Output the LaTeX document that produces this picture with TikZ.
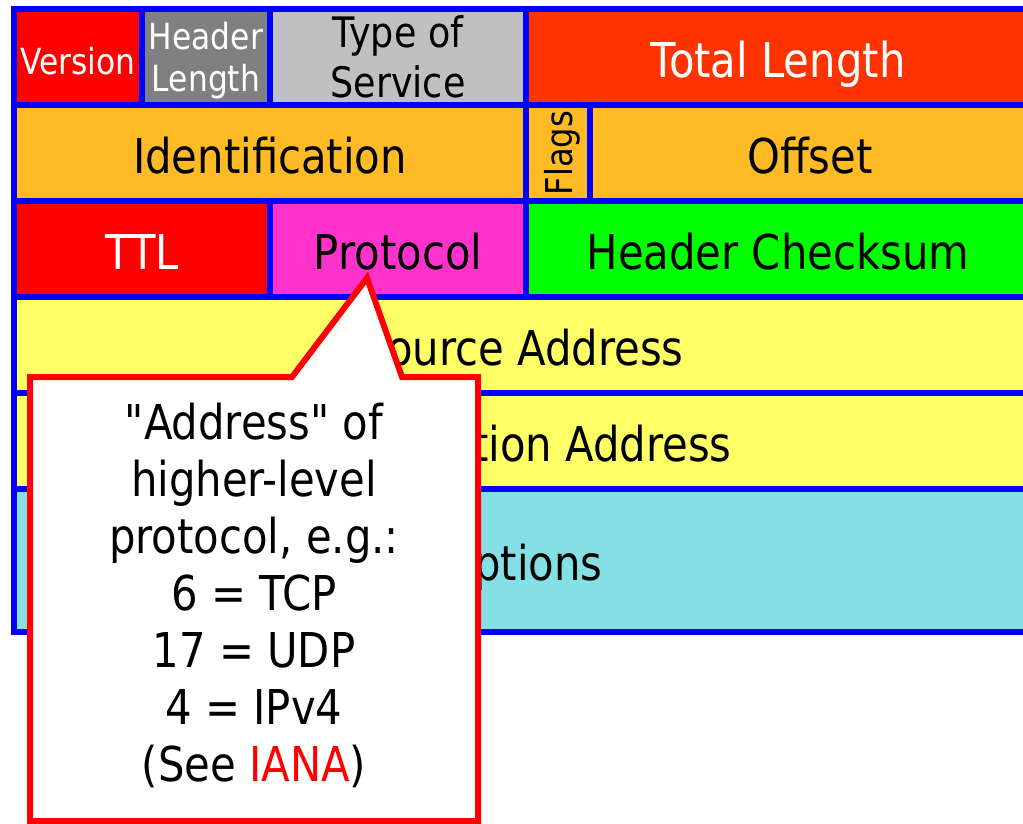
\documentclass[tikz,border=0pt]{standalone}
\usepackage{fontspec}
\setmainfont{DejaVu Sans}[FakeStretch=0.87,Ligatures=TeXOff]
\usetikzlibrary{positioning}
\definecolor{Line}{RGB}{0,0,255}
\definecolor{Ver}{RGB}{255,0,0}
\definecolor{HLen}{RGB}{128,128,128}
\definecolor{TOS}{RGB}{192,192,192}
\definecolor{Total}{RGB}{255,51,0}
\definecolor{Ident}{RGB}{255,187,38}
\definecolor{Proto}{RGB}{255,51,204}
\definecolor{Check}{RGB}{0,255,0}
\definecolor{Addr}{RGB}{255,255,102}
\definecolor{Opt}{RGB}{132,224,228}

\begin{document}
\begin{tikzpicture}[x=1pt,y=-1pt,
 f/.style={draw=Line,line width=6pt,inner sep=0pt,align=center,minimum height=96pt,font=\fontsize{48}{57}\selectfont},
 one/.style={text height=40pt,text depth=0pt},
 sm/.style={font=\fontsize{36}{42}\selectfont},
 callout/.style={draw=red,fill=white,line width=6pt,line join=miter},
 note/.style={align=center,inner sep=0pt,font=\fontsize{48}{57}\selectfont}]
\useasboundingbox (0,0) rectangle (1023,823);
\clip (0,0) rectangle (1023,823);
\fill[white] (0,0) rectangle (1023,823);
% row 1
\node[f,sm,fill=Ver,text=white,minimum width=128pt,text height=34pt,text depth=0pt] (ver) at (78,57) {Version};
\node[f,sm,fill=HLen,text=white,minimum width=128pt,text depth=0pt] (hlen) at (206,57) {Header\\Length};
\node[f,fill=TOS,minimum width=256pt,font=\fontsize{42}{50}\selectfont] (tos) at (398,57) {Type of\\Service};
\node[f,one,fill=Total,text=white,minimum width=504pt] (total) at (778,57) {Total Length};
% row 2
\node[f,one,fill=Ident,minimum width=512pt] (ident) at (270,153) {Identification};
\node[f,fill=Ident,rotate=90,minimum width=96pt,minimum height=64pt,text height=28pt,text depth=0pt,font=\fontsize{37}{42}\selectfont] (flags) at (558,153) {Flags};
\node[f,one,fill=Ident,minimum width=440pt] (offset) at (810,153) {Offset};
% row 3
\node[f,one,fill=Ver,text=white,minimum width=256pt] (ttl) at (142,249) {TTL};
\node[f,one,fill=Proto,minimum width=256pt] (proto) at (398,249) {Protocol};
\node[f,one,fill=Check,minimum width=504pt] (check) at (778,249) {Header Checksum};
% rows 4-6
\node[f,one,fill=Addr,minimum width=1016pt] (src) at (522,345) {Source Address};
\node[f,one,fill=Addr,minimum width=1016pt] (dst) at (522,441) {Destination Address};
\node[f,one,fill=Opt,minimum width=1016pt,minimum height=143pt] (opts) at (522,560.5) {Options};
% callout on Protocol
\coordinate (tip) at (367,278);
\draw[callout] (30,377) -- (292,377) -- (tip) -- (402,377) -- (478,377) -- (478,821) -- (30,821) -- cycle;
\node[note] (note) at (254,595) {"Address" of\\higher-level\\protocol, e.g.:\\6 = TCP\\17 = UDP\\4 = IPv4\\(See \textcolor{red}{IANA})};
\end{tikzpicture}
\end{document}
